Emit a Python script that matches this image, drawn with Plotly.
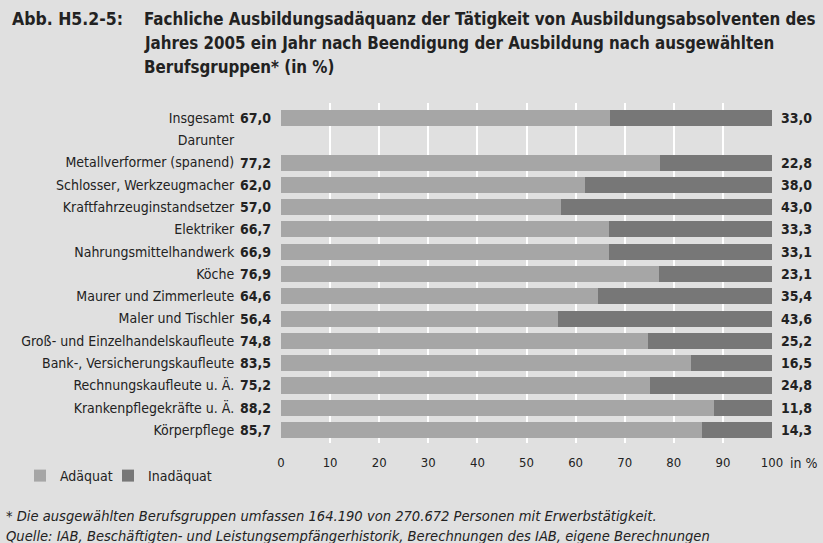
import plotly.graph_objects as go

categories = ["Insgesamt", "Darunter", "Metallverformer (spanend)", "Schlosser, Werkzeugmacher",
              "Kraftfahrzeuginstandsetzer", "Elektriker", "Nahrungsmittelhandwerk", "Köche",
              "Maurer und Zimmerleute", "Maler und Tischler", "Groß- und Einzelhandelskaufleute",
              "Bank-, Versicherungskaufleute", "Rechnungskaufleute u. Ä.", "Krankenpflegekräfte u. Ä.",
              "Körperpflege"]
adaequat = [67.0, None, 77.2, 62.0, 57.0, 66.7, 66.9, 76.9, 64.6, 56.4, 74.8, 83.5, 75.2, 88.2, 85.7]
inadaequat = [33.0, None, 22.8, 38.0, 43.0, 33.3, 33.1, 23.1, 35.4, 43.6, 25.2, 16.5, 24.8, 11.8, 14.3]
x_ticks = [0, 10, 20, 30, 40, 50, 60, 70, 80, 90, 100]
title_lines = ["Fachliche Ausbildungsadäquanz der Tätigkeit von Ausbildungsabsolventen des",
               "Jahres 2005 ein Jahr nach Beendigung der Ausbildung nach ausgewählten",
               "Berufsgruppen* (in %)"]
footnotes = ["* Die ausgewählten Berufsgruppen umfassen 164.190 von 270.672 Personen mit Erwerbstätigkeit.",
             "Quelle: IAB, Beschäftigten- und Leistungsempfängerhistorik, Berechnungen des IAB, eigene Berechnungen"]

W, H = 823, 543
L, R, T, B = 281, 51, 103, 100
pw, ph = W - L - R, H - T - B

def px(x):
    return (x - L) / pw

def py(y):
    return (H - B - y) / ph

FONT = "DejaVu Sans Condensed, Liberation Sans Narrow, DejaVu Sans, sans-serif"
BG = "#e0e0e0"
TXT = "#222222"
C_ADQ = "#a6a6a6"
C_INADQ = "#777777"

def fmt(v):
    return f"{v:.1f}".replace(".", ",")

fig = go.Figure()
fig.add_trace(go.Bar(y=categories, x=adaequat, orientation="h", name="Adäquat", showlegend=True,
                     marker=dict(color=C_ADQ, line=dict(width=0)), width=0.72))
fig.add_trace(go.Bar(y=categories, x=inadaequat, orientation="h", name="Inadäquat", showlegend=True,
                     marker=dict(color=C_INADQ, line=dict(width=0)), width=0.72, legend="legend2"))

ann = []
for c, a, i in zip(categories, adaequat, inadaequat):
    if a is not None:
        ann.append(dict(x=0, y=c, xref="x", yref="y", text=f"<b>{fmt(a)}</b>", showarrow=False,
                        xanchor="right", xshift=-8, font=dict(size=14, color=TXT, family=FONT)))
        ann.append(dict(x=100, y=c, xref="x", yref="y", text=f"<b>{fmt(i)}</b>", showarrow=False,
                        xanchor="left", xshift=7, font=dict(size=14, color=TXT, family=FONT)))

ann.append(dict(x=100, y=0, xref="x", yref="paper", text="in %", showarrow=False,
                xanchor="left", yanchor="middle", xshift=16, yshift=-20,
                font=dict(size=14, color=TXT, family=FONT)))

ann.append(dict(x=px(10), y=py(19), xref="paper", yref="paper", text="<b>Abb. H5.2-5:</b>",
                showarrow=False, xanchor="left", yanchor="middle",
                font=dict(size=17.5, color=TXT, family=FONT)))
for k, line in enumerate(title_lines):
    ann.append(dict(x=px(142), y=py(19 + 24 * k), xref="paper", yref="paper",
                    text=f"<b>{line}</b>", showarrow=False, xanchor="left", yanchor="middle",
                    font=dict(size=16.8, color=TXT, family=FONT)))
for k, line in enumerate(footnotes):
    ann.append(dict(x=px(4), y=py(515 + 20 * k), xref="paper", yref="paper",
                    text=f"<i>{line}</i>", showarrow=False, xanchor="left", yanchor="middle",
                    font=dict(size=14.6, color=TXT, family=FONT)))

legend_common = dict(orientation="h", yanchor="middle", y=py(476), xanchor="left",
                     bgcolor="rgba(0,0,0,0)", font=dict(size=14, color=TXT, family=FONT),
                     itemwidth=30, visible=True)

fig.update_layout(
    width=W, height=H, barmode="stack", showlegend=True,
    paper_bgcolor=BG, plot_bgcolor=BG,
    margin=dict(l=L, r=R, t=T, b=B, autoexpand=False),
    font=dict(family=FONT, size=14, color=TXT),
    annotations=ann,
    legend=dict(x=px(20), **legend_common),
    legend2=dict(x=px(108), **legend_common),
    xaxis=dict(range=[0, 100], tickvals=x_ticks, ticktext=[str(t) for t in x_ticks],
               showgrid=True, gridcolor="white", gridwidth=2, zeroline=False, showline=False,
               ticks="outside", ticklen=7, tickcolor="rgba(0,0,0,0)",
               tickfont=dict(size=13, color=TXT, family=FONT), fixedrange=True),
    yaxis=dict(type="category", range=[14.58, -0.67], showgrid=False, zeroline=False,
               showline=False, ticks="outside", ticklen=43, tickcolor="rgba(0,0,0,0)",
               tickfont=dict(size=14, color=TXT, family=FONT), fixedrange=True),
)

fig.write_html("out.html", config={"displayModeBar": False},
               post_script="document.body.style.margin='0';")
